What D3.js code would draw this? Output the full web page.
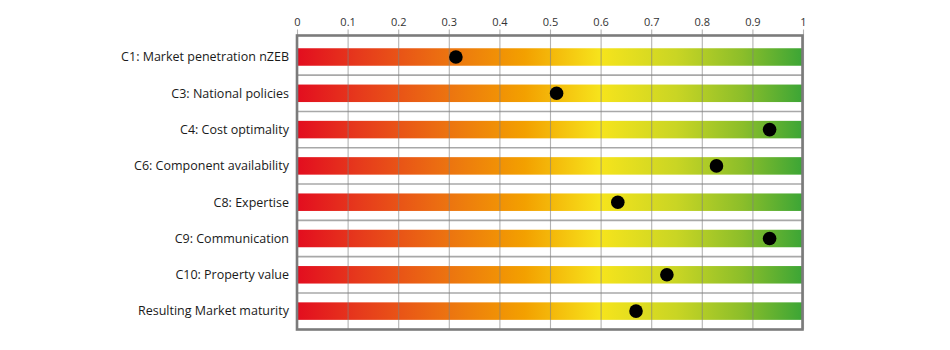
<!DOCTYPE html>
<html>
<head>
<meta charset="utf-8">
<script src="https://cdn.jsdelivr.net/npm/d3@7"></script>
<style>
  html, body { margin: 0; padding: 0; background: #fff; }
  svg { display: block; }
</style>
</head>
<body>
<svg id="chart" width="950" height="350"></svg>
<script>
const categories = [
  "C1: Market penetration nZEB",
  "C3: National policies",
  "C4: Cost optimality",
  "C6: Component availability",
  "C8: Expertise",
  "C9: Communication",
  "C10: Property value",
  "Resulting Market maturity"
];
const values = [0.314, 0.513, 0.934, 0.829, 0.634, 0.934, 0.731, 0.670];
const tickValues = [0, 0.1, 0.2, 0.3, 0.4, 0.5, 0.6, 0.7, 0.8, 0.9, 1];
const tickLabels = ["0", "0.1", "0.2", "0.3", "0.4", "0.5", "0.6", "0.7", "0.8", "0.9", "1"];

const svg = d3.select("#chart");
const FONT = "'Open Sans', 'Noto Sans', sans-serif";

const x = d3.scaleLinear().domain([0, 1]).range([297, 803]);
const y = d3.scaleBand().domain(categories).range([38.85, 329.25]).padding(0);
const frameTop = 35.5, frameBottom = 329.5;
const barH = 17.5;

// gradient
const defs = svg.append("defs");
const grad = defs.append("linearGradient")
  .attr("id", "g").attr("gradientUnits", "userSpaceOnUse")
  .attr("x1", x(0)).attr("x2", x(1)).attr("y1", 0).attr("y2", 0);
[[0, "#e30d1f"], [0.12, "#e6391c"], [0.3, "#ec7410"], [0.45, "#f3a000"],
 [0.6, "#f6e41c"], [0.75, "#c9d524"], [0.88, "#8cbe2a"], [1, "#3ba536"]]
  .forEach(([o, c]) => grad.append("stop").attr("offset", o).attr("stop-color", c));

// bars
svg.append("g").selectAll("rect").data(categories).join("rect")
  .attr("x", x(0)).attr("width", x(1) - x(0))
  .attr("y", d => y(d) + y.bandwidth() / 2 - barH / 2)
  .attr("height", barH)
  .attr("fill", "url(#g)");

// row separators
svg.append("g").selectAll("line").data(categories.slice(1)).join("line")
  .attr("x1", x(0)).attr("x2", x(1))
  .attr("y1", d => y(d)).attr("y2", d => y(d))
  .attr("stroke", "#a8a8a8").attr("stroke-width", 1.6);

// vertical gridlines (over bars)
const axis = d3.axisTop(x).tickValues(tickValues)
  .tickFormat((d, i) => tickLabels[i])
  .tickSize(-(frameBottom - frameTop) - 6).tickPadding(4);
const ax = svg.append("g").attr("transform", `translate(0,${frameTop - 6})`).call(axis);
ax.select(".domain").remove();
ax.selectAll(".tick line").attr("stroke", "#808080").attr("stroke-opacity", 0.6).attr("stroke-width", 1.1);
ax.selectAll(".tick text").attr("font-family", FONT).attr("font-size", 11).attr("fill", "#333");

// frame
svg.append("rect")
  .attr("x", x(0)).attr("y", frameTop)
  .attr("width", x(1) - x(0) - 0.5).attr("height", frameBottom - frameTop)
  .attr("fill", "none").attr("stroke", "#7b7b7b").attr("stroke-width", 2.6);

// dots
svg.append("g").selectAll("circle").data(values).join("circle")
  .attr("cx", d => x(d))
  .attr("cy", (d, i) => y(categories[i]) + y.bandwidth() / 2)
  .attr("r", 6.8).attr("fill", "#000");

// labels
svg.append("g").selectAll("text").data(categories).join("text")
  .attr("x", 289).attr("y", d => y(d) + y.bandwidth() / 2)
  .attr("dy", "0.35em").attr("text-anchor", "end")
  .attr("font-family", FONT).attr("font-size", 12.5).attr("fill", "#1a1a1a")
  .text(d => d);
</script>
</body>
</html>
